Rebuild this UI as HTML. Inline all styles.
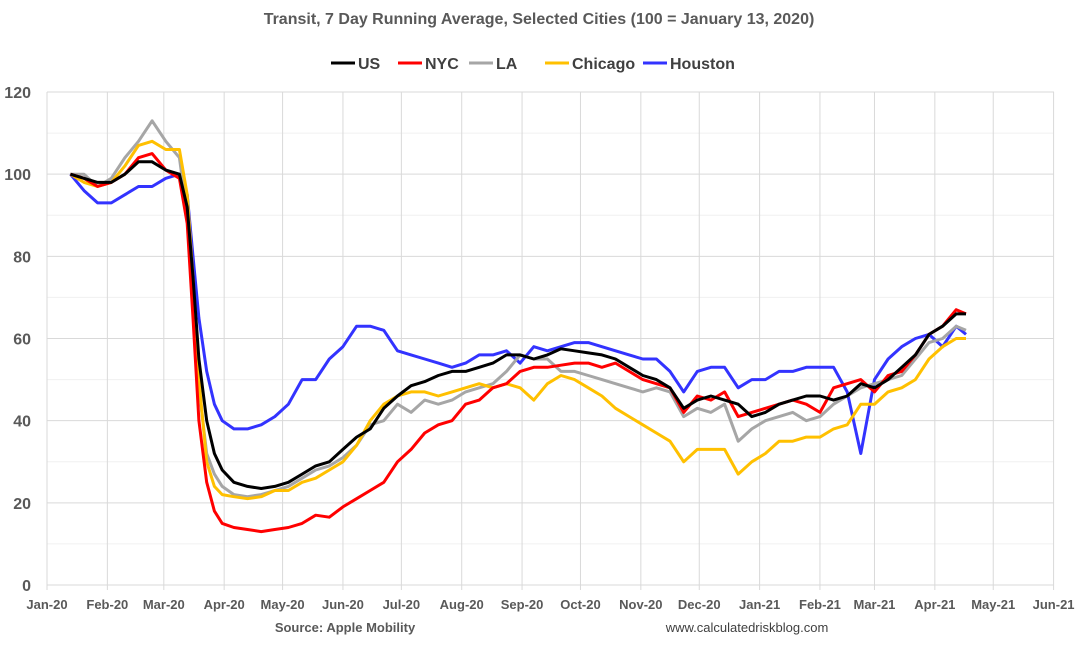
<!DOCTYPE html>
<html><head><meta charset="utf-8"><style>
body{margin:0;background:#fff;font-family:"Liberation Sans",sans-serif;}
svg text{font-family:"Liberation Sans",sans-serif;}
</style></head><body>
<svg id="chart" width="1078" height="667">
<rect width="1078" height="667" fill="#fff"/>
<text x="539" y="24" text-anchor="middle" font-size="16" font-weight="bold" fill="#595959">Transit, 7 Day Running Average, Selected Cities (100 = January 13, 2020)</text>
<g id="grid"></g><g id="axes"></g><g id="series"></g><g id="legend"></g>
<text x="345" y="632" text-anchor="middle" font-size="13" font-weight="bold" fill="#595959">Source: Apple Mobility</text>
<text x="747" y="632" text-anchor="middle" font-size="13" fill="#404040">www.calculatedriskblog.com</text>
</svg>
<script>
const monthLabels=["Jan-20","Feb-20","Mar-20","Apr-20","May-20","Jun-20","Jul-20","Aug-20","Sep-20","Oct-20","Nov-20","Dec-20","Jan-21","Feb-21","Mar-21","Apr-21","May-21","Jun-21"];
const monthDays=[0,31,60,91,121,152,182,213,244,274,305,335,366,397,425,456,486,517];
const yTicks=[0,20,40,60,80,100,120];
const days=[12,19,26,33,40,47,54,61,68,72,75,78,82,86,90,96,103,110,117,124,131,138,145,152,159,166,173,180,187,194,201,208,215,222,229,236,243,250,257,264,271,278,285,292,299,306,313,320,327,334,341,348,355,362,369,376,383,390,397,404,411,418,425,432,439,446,453,460,467,472];
const usVals=[100,99,98,98,100,103,103,101,100,92,75,55,40,32,28,25,24,23.5,24,25,27,29,30,33,36,38,43,46,48.5,49.5,51,52,52,53,54,56,56,55,56,57.5,57,56.5,56,55,53,51,50,48,43,45,46,45,44,41,42,44,45,46,46,45,46,49,48,50,53,56,61,63,66,66];
const nycVals=[100,99,97,98,100,104,105,101,99,88,65,40,25,18,15,14,13.5,13,13.5,14,15,17,16.5,19,21,23,25,30,33,37,39,40,44,45,48,49,52,53,53,53.5,54,54,53,54,52,50,49,48,42,46,45,47,41,42,43,44,45,44,42,48,49,50,47,51,52,56,61,63,67,66];
const laVals=[100,100,97,99,104,108,113,108,104,90,70,48,32,27,24,22,21.5,22,23,24,26,28,29,31,34,39,40,44,42,45,44,45,47,48,49,52,56,55,55,52,52,51,50,49,48,47,48,47,41,43,42,44,35,38,40,41,42,40,41,44,46,48,49,50,51,55,59,60,63,62];
const chiVals=[100,98,97,98,102,107,108,106,106,95,75,50,30,24,22,21.5,21,21.5,23,23,25,26,28,30,34,40,44,46,47,47,46,47,48,49,48,49,48,45,49,51,50,48,46,43,41,39,37,35,30,33,33,33,27,30,32,35,35,36,36,38,39,44,44,47,48,50,55,58,60,60];
const houVals=[100,96,93,93,95,97,97,99,100,95,80,65,52,44,40,38,38,39,41,44,50,50,55,58,63,63,62,57,56,55,54,53,54,56,56,57,54,58,57,58,59,59,58,57,56,55,55,52,47,52,53,53,48,50,50,52,52,53,53,53,47,32,50,55,58,60,61,58,63,61];
const seriesNames=["US","NYC","LA","Chicago","Houston"];
const seriesColors=["#000000","#ff0000","#a6a6a6","#ffc000","#3333ff"];
const seriesVals=[usVals,nycVals,laVals,chiVals,houVals];
const NS="http://www.w3.org/2000/svg";
const X=d=>47+d*1.947, Y=v=>585-v*(493/120);
function mk(t,a,p){const e=document.createElementNS(NS,t);for(const k in a)e.setAttribute(k,a[k]);p.appendChild(e);return e;}
const grid=document.getElementById('grid'),axes=document.getElementById('axes');
for(let v=10;v<=120;v+=10){const l=mk('line',{x1:47,x2:1054,y1:Y(v),y2:Y(v),stroke:v%20?'#f0f0f0':'#d9d9d9'},grid);

}
monthDays.forEach((d,i)=>{const l=mk('line',{x1:X(d),x2:X(d),y1:Y(120),y2:590,stroke:'#d9d9d9'},grid);


const t=mk('text',{x:X(d),y:609,'text-anchor':'middle','font-size':13,'font-weight':'bold',fill:'#595959'},axes);t.textContent=monthLabels[i];

});
const base=mk('line',{x1:47,x2:1054,y1:585,y2:585,stroke:'#d9d9d9'},axes);


yTicks.forEach(v=>{const t=mk('text',{x:31,y:Y(v)+6,'text-anchor':'end','font-size':16,'font-weight':'bold',fill:'#595959'},axes);t.textContent=v;

});
const sg=document.getElementById('series');
[4,2,3,1,0].forEach(i=>{const vals=seriesVals[i];const pts=days.map((d,j)=>X(d).toFixed(1)+','+Y(vals[j]).toFixed(1)).join(' ');
const p=mk('polyline',{points:pts,fill:'none',stroke:seriesColors[i],'stroke-width':3,'stroke-linejoin':'round'},sg);

});
const lg=document.getElementById('legend');const lx=[331,398,469,545,643];
seriesNames.forEach((n,i)=>{const l=mk('line',{x1:lx[i],x2:lx[i]+24,y1:63,y2:63,stroke:seriesColors[i],'stroke-width':3},lg);


const t=mk('text',{x:lx[i]+27,y:69,'font-size':16,'font-weight':'bold',fill:'#404040'},lg);t.textContent=n;

});
</script>
</body></html>
